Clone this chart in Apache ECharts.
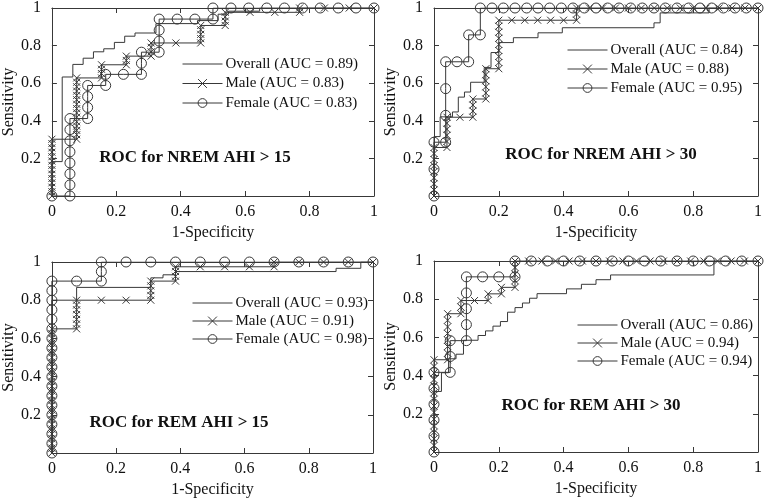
<!DOCTYPE html>
<html><head><meta charset="utf-8">
<script src="https://cdn.jsdelivr.net/npm/echarts@6/dist/echarts.min.js"></script>
<style>html,body{margin:0;padding:0;background:#fff}#c{width:765px;height:499px}</style>
</head><body><div id="c"></div>
<script>
// ---------- DATA ----------
const panelTitles = ['ROC for NREM AHI > 15', 'ROC for NREM AHI > 30', 'ROC for REM AHI > 15', 'ROC for REM AHI > 30'];
const overallNames = ['Overall (AUC = 0.89)', 'Overall (AUC = 0.84)', 'Overall (AUC = 0.93)', 'Overall (AUC = 0.86)'];
const maleNames = ['Male (AUC = 0.83)', 'Male (AUC = 0.88)', 'Male (AUC = 0.91)', 'Male (AUC = 0.94)'];
const femaleNames = ['Female (AUC = 0.83)', 'Female (AUC = 0.95)', 'Female (AUC = 0.98)', 'Female (AUC = 0.94)'];
const xTickLabels = ['0', '0.2', '0.4', '0.6', '0.8', '1'];
const yTickLabels = ['', '0.2', '0.4', '0.6', '0.8', '1'];
const xAxisName = '1-Specificity';
const yAxisName = 'Sensitivity';

// Panel 1: NREM AHI > 15
const overall1 = [[0,0],[0,0.183],[0.032,0.183],[0.032,0.633],[0.065,0.633],[0.065,0.7],[0.097,0.7],[0.097,0.733],[0.129,0.733],[0.129,0.767],[0.161,0.767],[0.161,0.783],[0.194,0.783],[0.194,0.817],[0.226,0.817],[0.226,0.85],[0.258,0.85],[0.258,0.867],[0.323,0.867],[0.323,0.917],[0.452,0.917],[0.452,0.933],[0.516,0.933],[0.516,0.967],[0.548,0.967],[0.548,0.983],[0.645,0.983],[0.645,1],[1,1]];
const male1 = [[0,0],[0,0.023],[0,0.047],[0,0.07],[0,0.093],[0,0.116],[0,0.14],[0,0.163],[0,0.186],[0,0.209],[0,0.233],[0,0.256],[0,0.279],[0,0.302],
  [0.077,0.302],[0.077,0.326],[0.077,0.349],[0.077,0.372],[0.077,0.395],[0.077,0.419],[0.077,0.442],[0.077,0.465],[0.077,0.488],[0.077,0.512],[0.077,0.535],[0.077,0.558],[0.077,0.581],[0.077,0.605],[0.077,0.628],
  [0.154,0.628],[0.154,0.651],[0.154,0.674],[0.154,0.698],[0.231,0.698],[0.231,0.721],[0.231,0.744],
  [0.308,0.744],[0.308,0.767],[0.308,0.791],[0.308,0.814],[0.385,0.814],[0.462,0.814],[0.462,0.837],[0.462,0.86],[0.462,0.884],[0.462,0.907],
  [0.538,0.907],[0.538,0.93],[0.538,0.953],[0.538,0.977],[0.615,0.977],[0.692,0.977],[0.769,0.977],[0.769,1],[0.846,1],[0.923,1],[1,1]];
const female1 = [[0,0],[0.056,0],[0.056,0.059],[0.056,0.118],[0.056,0.176],[0.056,0.235],[0.056,0.294],[0.056,0.353],[0.056,0.412],
  [0.111,0.412],[0.111,0.471],[0.111,0.529],[0.111,0.588],[0.167,0.588],[0.167,0.647],[0.222,0.647],[0.278,0.647],[0.278,0.706],[0.278,0.765],
  [0.333,0.765],[0.333,0.824],[0.333,0.882],[0.333,0.941],[0.389,0.941],[0.444,0.941],[0.5,0.941],[0.5,1],
  [0.556,1],[0.611,1],[0.667,1],[0.722,1],[0.778,1],[0.833,1],[0.889,1],[0.944,1],[1,1]];

// Panel 2: NREM AHI > 30
const overall2 = [[0,0],[0,0.316],[0.019,0.316],[0.019,0.421],[0.057,0.421],[0.057,0.447],[0.075,0.447],[0.075,0.526],[0.094,0.526],[0.094,0.553],[0.113,0.553],[0.113,0.605],[0.155,0.605],[0.155,0.684],[0.176,0.684],[0.176,0.763],[0.2,0.763],[0.2,0.816],[0.245,0.816],[0.245,0.842],[0.321,0.842],[0.321,0.868],[0.396,0.868],[0.396,0.895],[0.679,0.895],[0.679,0.921],[0.698,0.921],[0.698,0.974],[0.849,0.974],[0.849,1],[1,1]];
const male2 = [[0,0],[0,0.032],[0,0.065],[0,0.097],[0,0.129],[0,0.161],[0,0.194],[0,0.226],[0,0.258],
  [0.04,0.258],[0.04,0.29],[0.04,0.323],[0.04,0.355],[0.04,0.387],[0.04,0.419],[0.08,0.419],[0.12,0.419],[0.12,0.452],[0.12,0.484],[0.12,0.516],
  [0.16,0.516],[0.16,0.548],[0.16,0.581],[0.16,0.613],[0.16,0.645],[0.16,0.677],
  [0.2,0.677],[0.2,0.71],[0.2,0.742],[0.2,0.774],[0.2,0.806],[0.2,0.839],[0.2,0.871],[0.2,0.903],[0.2,0.935],
  [0.24,0.935],[0.28,0.935],[0.32,0.935],[0.36,0.935],[0.4,0.935],[0.44,0.935],[0.44,0.968],[0.44,1],
  [0.48,1],[0.52,1],[0.56,1],[0.6,1],[0.64,1],[0.68,1],[0.72,1],[0.76,1],[0.8,1],[0.84,1],[0.88,1],[0.92,1],[0.96,1],[1,1]];
const female2 = [[0,0],[0,0.143],[0,0.286],[0.036,0.286],[0.036,0.429],[0.036,0.571],[0.036,0.714],[0.071,0.714],[0.107,0.714],[0.107,0.857],[0.143,0.857],[0.143,1],
  [0.179,1],[0.214,1],[0.25,1],[0.286,1],[0.321,1],[0.357,1],[0.393,1],[0.429,1],[0.464,1],[0.5,1],[0.536,1],[0.571,1],[0.607,1],[0.643,1],
  [0.679,1],[0.714,1],[0.75,1],[0.786,1],[0.821,1],[0.857,1],[0.893,1],[0.929,1],[0.964,1],[1,1]];

// Panel 3: REM AHI > 15
const overall3 = [[0,0],[0,0.8],[0.077,0.8],[0.077,0.867],[0.308,0.867],[0.308,0.917],[0.346,0.917],[0.346,0.933],[0.385,0.933],[0.385,0.95],[0.885,0.95],[0.885,0.967],[0.962,0.967],[0.962,1],[1,1]];
const male3 = [[0,0],[0,0.025],[0,0.05],[0,0.075],[0,0.1],[0,0.125],[0,0.15],[0,0.175],[0,0.2],[0,0.225],[0,0.25],[0,0.275],[0,0.3],[0,0.325],[0,0.35],[0,0.375],[0,0.4],[0,0.425],[0,0.45],[0,0.475],[0,0.5],[0,0.525],[0,0.55],[0,0.575],[0,0.6],[0,0.625],[0,0.65],
  [0.077,0.65],[0.077,0.675],[0.077,0.7],[0.077,0.725],[0.077,0.75],[0.077,0.775],[0.077,0.8],
  [0.154,0.8],[0.231,0.8],[0.308,0.8],[0.308,0.825],[0.308,0.85],[0.308,0.875],[0.308,0.9],[0.385,0.9],[0.385,0.925],[0.385,0.95],[0.385,0.975],
  [0.462,0.975],[0.538,0.975],[0.615,0.975],[0.692,0.975],[0.692,1],[0.769,1],[0.846,1],[0.923,1],[1,1]];
const female3 = [[0,0],[0,0.05],[0,0.1],[0,0.15],[0,0.2],[0,0.25],[0,0.3],[0,0.35],[0,0.4],[0,0.45],[0,0.5],[0,0.55],[0,0.6],[0,0.65],[0,0.7],[0,0.75],[0,0.8],[0,0.85],[0,0.9],
  [0.077,0.9],[0.154,0.9],[0.154,0.95],[0.154,1],[0.231,1],[0.308,1],[0.385,1],[0.462,1],[0.538,1],[0.615,1],[0.692,1],[0.769,1],[0.846,1],[0.923,1],[1,1]];

// Panel 4: REM AHI > 30
const overall4 = [[0,0],[0,0.317],[0.023,0.317],[0.023,0.415],[0.045,0.415],[0.045,0.488],[0.068,0.488],[0.068,0.512],[0.091,0.512],[0.091,0.585],[0.136,0.585],[0.136,0.61],[0.159,0.61],[0.159,0.634],[0.182,0.634],[0.182,0.659],[0.205,0.659],[0.205,0.683],[0.227,0.683],[0.227,0.732],[0.25,0.732],[0.25,0.756],[0.273,0.756],[0.273,0.78],[0.295,0.78],[0.295,0.805],[0.318,0.805],[0.318,0.829],[0.409,0.829],[0.409,0.854],[0.455,0.854],[0.455,0.878],[0.5,0.878],[0.5,0.902],[0.545,0.902],[0.545,0.927],[0.864,0.927],[0.864,1],[1,1]];
const male4 = [[0,0],[0,0.034],[0,0.069],[0,0.103],[0,0.138],[0,0.172],[0,0.207],[0,0.241],[0,0.276],[0,0.31],[0,0.345],[0,0.379],[0,0.414],[0,0.448],[0,0.483],
  [0.042,0.483],[0.042,0.517],[0.042,0.552],[0.042,0.586],[0.042,0.621],[0.042,0.655],[0.042,0.69],[0.042,0.724],
  [0.083,0.724],[0.083,0.759],[0.083,0.793],[0.125,0.793],[0.167,0.793],[0.167,0.828],[0.208,0.828],[0.208,0.862],
  [0.25,0.862],[0.25,0.897],[0.25,0.931],[0.25,0.966],[0.25,1],[0.292,1],[0.333,1],[0.375,1],[0.417,1],[0.458,1],[0.5,1],[0.542,1],[0.583,1],
  [0.625,1],[0.667,1],[0.708,1],[0.75,1],[0.792,1],[0.833,1],[0.875,1],[0.917,1],[0.958,1],[1,1]];
const female4 = [[0,0],[0,0.083],[0,0.167],[0,0.25],[0,0.333],[0,0.417],[0.05,0.417],[0.05,0.5],[0.05,0.583],[0.1,0.583],[0.1,0.667],[0.1,0.75],[0.1,0.833],[0.1,0.917],
  [0.15,0.917],[0.2,0.917],[0.25,0.917],[0.25,1],[0.3,1],[0.35,1],[0.4,1],[0.45,1],[0.5,1],[0.55,1],[0.6,1],[0.65,1],[0.7,1],[0.75,1],[0.8,1],[0.85,1],[0.9,1],[0.95,1],[1,1]];

const overallData = [overall1, overall2, overall3, overall4];
const maleData = [male1, male2, male3, male4];
const femaleData = [female1, female2, female3, female4];

// ---------- LAYOUT ----------
const FONT = 'Liberation Serif';
const INK = '#383838';
const TXT = '#111';
const grids = [
  {left: 47, top: 5, width: 327, height: 191},
  {left: 434, top: 5, width: 327, height: 191},
  {left: 47, top: 262, width: 326, height: 191},
  {left: 434, top: 261, width: 327, height: 191}
];
const legendPos = [
  {left: 182, top: 56.5, gap: 4.5},
  {left: 567, top: 42.5, gap: 4},
  {left: 192, top: 295.5, gap: 3},
  {left: 577, top: 317.5, gap: 3}
];
const titlePos = [[195, 158], [601, 155], [179, 423], [591, 406]];

const X_SYMBOL = 'path://M0,0L10,10M10,0L0,10';
const CLEAR = 'rgba(0,0,0,0)';

const xAxes = [], yAxes = [], series = [], legends = [], graphics = [];
grids.forEach((g, i) => {
  xAxes.push({
    gridIndex: i, type: 'value', min: 0, max: 1, interval: 0.2, position: 'bottom',
    axisLine: {show: true, onZero: false, lineStyle: {color: INK, width: 1}},
    axisTick: {show: true, inside: true, length: 5, lineStyle: {color: INK}},
    axisLabel: {show: true, margin: 8, fontFamily: FONT, fontSize: 16, color: TXT, showMinLabel: true, showMaxLabel: true,
      formatter: v => xTickLabels[Math.round(v / 0.2)]},
    splitLine: {show: false},
    name: xAxisName, nameLocation: 'middle', nameGap: 29,
    nameTextStyle: {fontFamily: FONT, fontSize: 16, color: TXT}
  });
  xAxes.push({
    gridIndex: i, type: 'value', min: 0, max: 1, interval: 0.2, position: 'top',
    axisLine: {show: true, onZero: false, lineStyle: {color: INK, width: 1}},
    axisTick: {show: true, inside: true, length: 5, lineStyle: {color: INK}},
    axisLabel: {show: false}, splitLine: {show: false}
  });
  yAxes.push({
    gridIndex: i, type: 'value', min: 0, max: 1, interval: 0.2, position: 'left',
    axisLine: {show: true, onZero: false, lineStyle: {color: INK, width: 1}},
    axisTick: {show: true, inside: true, length: 5, lineStyle: {color: INK}},
    axisLabel: {show: true, margin: 11, fontFamily: FONT, fontSize: 16, color: TXT,
      formatter: v => yTickLabels[Math.round(v / 0.2)]},
    splitLine: {show: false},
    name: yAxisName, nameLocation: 'middle', nameRotate: 90, nameGap: 33,
    nameTextStyle: {fontFamily: FONT, fontSize: 16, color: TXT}
  });
  yAxes.push({
    gridIndex: i, type: 'value', min: 0, max: 1, interval: 0.2, position: 'right',
    axisLine: {show: true, onZero: false, lineStyle: {color: INK, width: 1}},
    axisTick: {show: true, inside: true, length: 5, lineStyle: {color: INK}},
    axisLabel: {show: false}, splitLine: {show: false}
  });
  const xi = 2 * i, yi = 2 * i;
  series.push({
    type: 'line', name: overallNames[i], data: overallData[i], xAxisIndex: xi, yAxisIndex: yi,
    symbol: 'none', lineStyle: {color: INK, width: 1}, itemStyle: {color: INK}, z: 2, silent: true
  });
  series.push({
    type: 'line', name: maleNames[i], data: maleData[i], xAxisIndex: xi, yAxisIndex: yi,
    symbol: X_SYMBOL, symbolSize: 7, showSymbol: true, showAllSymbol: true,
    lineStyle: {color: INK, width: 1}, itemStyle: {color: 'none', borderColor: INK, borderWidth: 1}, z: 3, silent: true
  });
  series.push({
    type: 'line', name: femaleNames[i], data: femaleData[i], xAxisIndex: xi, yAxisIndex: yi,
    symbol: 'circle', symbolSize: 10, showSymbol: true, showAllSymbol: true,
    lineStyle: {color: INK, width: 1}, itemStyle: {color: CLEAR, borderColor: INK, borderWidth: 1}, z: 4, silent: true
  });
  legends.push({
    left: legendPos[i].left, top: legendPos[i].top, orient: 'vertical', padding: 0,
    data: [
      {name: overallNames[i], itemStyle: {color: CLEAR, borderColor: CLEAR, borderWidth: 0}, lineStyle: {width: 1, color: INK}},
      {name: maleNames[i], itemStyle: {color: CLEAR, borderColor: INK, borderWidth: 1}, lineStyle: {width: 1, color: INK}},
      {name: femaleNames[i], itemStyle: {color: CLEAR, borderColor: INK, borderWidth: 1}, lineStyle: {width: 1, color: INK}}
    ],
    lineStyle: {width: 1, color: INK},
    itemWidth: 40, itemHeight: 11, itemGap: legendPos[i].gap, selectedMode: false,
    textStyle: {fontFamily: FONT, fontSize: 15, color: TXT, lineHeight: 15, padding: [0, 0, 0, -2]}
  });
  graphics.push({
    type: 'text', x: titlePos[i][0], y: titlePos[i][1],
    style: {text: panelTitles[i], fontFamily: FONT, fontSize: 17, fontWeight: 'bold', fill: TXT, align: 'center', verticalAlign: 'middle'}
  });
});

const chart = echarts.init(document.getElementById('c'), null, {renderer: 'canvas'});
chart.setOption({
  animation: false,
  backgroundColor: '#fff',
  grid: grids,
  xAxis: xAxes,
  yAxis: yAxes,
  legend: legends,
  series: series,
  graphic: graphics
});
</script>
</body></html>
